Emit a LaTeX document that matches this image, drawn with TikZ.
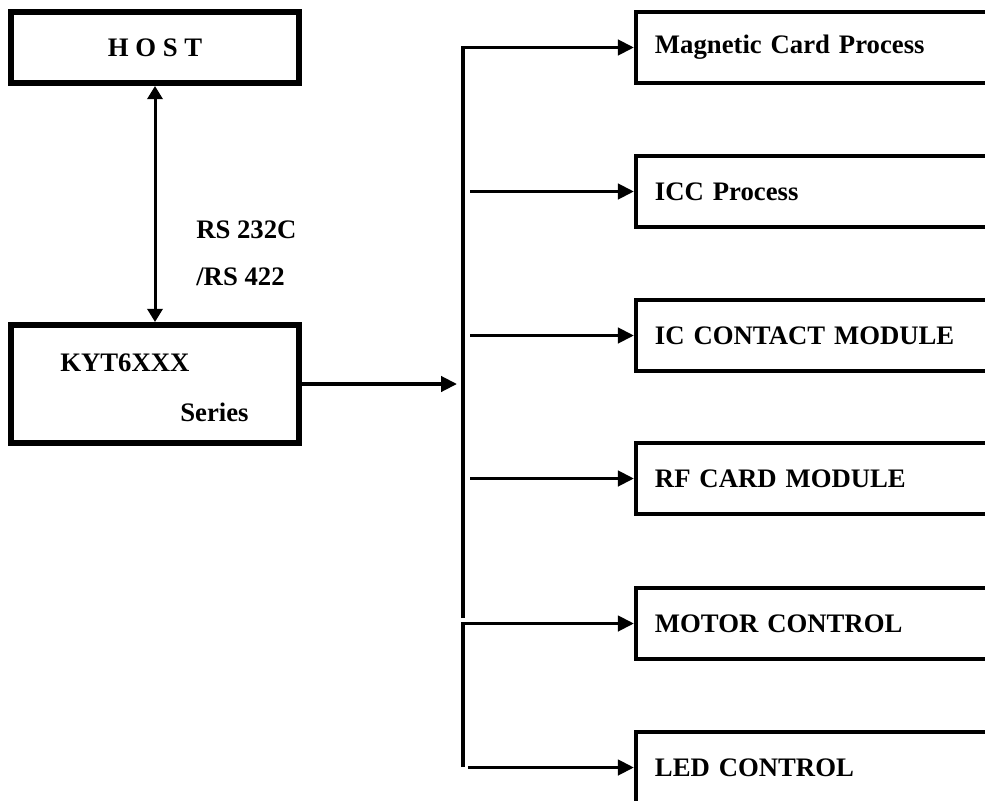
\documentclass[tikz,border=0pt]{standalone}
\usepackage{fontspec}
\setmainfont{Liberation Serif}
\usetikzlibrary{arrows.meta,calc}

\tikzset{
  mainbox/.style={draw, line width=0.15cm, minimum width=7.2cm},
  modbox/.style={draw, line width=0.1cm, text width=8.4cm, inner xsep=0.475cm, inner ysep=0pt, minimum height=1.775cm, align=left},
  link/.style={line width=0.09cm, -{Triangle[length=0.4cm,width=0.38cm]}},
  lbl/.style={anchor=west, inner sep=0pt},
}

\begin{document}
\begin{tikzpicture}[x=0.025cm,y=-0.025cm,font=\fontsize{19}{23}\selectfont\bfseries]
\useasboundingbox (0,0) rectangle (985,801);

% host and reader
\node (host) [mainbox, minimum height=1.775cm] at (155,47.5) {H O S T};
\node (kyt) [mainbox, minimum height=2.95cm] at (155,384) {};
\node (kytA) [lbl] at (60,363) {KYT6XXX};
\node (kytB) [lbl] at (180,412) {Series};
\node (rsA) [lbl] at (196,230) {RS 232C};
\node (rsB) [lbl] at (196,277) {/RS 422};
\draw[line width=0.075cm, {Triangle[length=0.33cm,width=0.38cm]}-{Triangle[length=0.33cm,width=0.38cm]}] (host.south) -- (kyt.north);

% modules
\node (mag) [modbox] at (823,47.5) {Magnetic Card Process};
\node (icc) [modbox] at (823,191.5) {ICC Process};
\node (cont) [modbox] at (823,335.5) {IC CONTACT MODULE};
\node (rf) [modbox] at (823,478.5) {RF CARD MODULE};
\node (motor) [modbox] at (823,623.5) {MOTOR CONTROL};
\node (led) [modbox] at (823,767.5) {LED CONTROL};

% bus
\coordinate (busIn) at (457,384);
\coordinate (busA) at (463,618);
\coordinate (busB) at (463,767);
\draw[link] (kyt.east) -- (busIn);
\draw[link] (busA) |- (mag.west);
\draw[link] ($(icc.west -| busA)+(7,0)$) -- (icc.west);
\draw[link] ($(cont.west -| busA)+(7,0)$) -- (cont.west);
\draw[link] ($(rf.west -| busA)+(7,0)$) -- (rf.west);
\draw[link] (busB) |- (motor.west);
\draw[link] ($(led.west -| busB)+(5,0)$) -- (led.west);

\end{tikzpicture}
\end{document}
